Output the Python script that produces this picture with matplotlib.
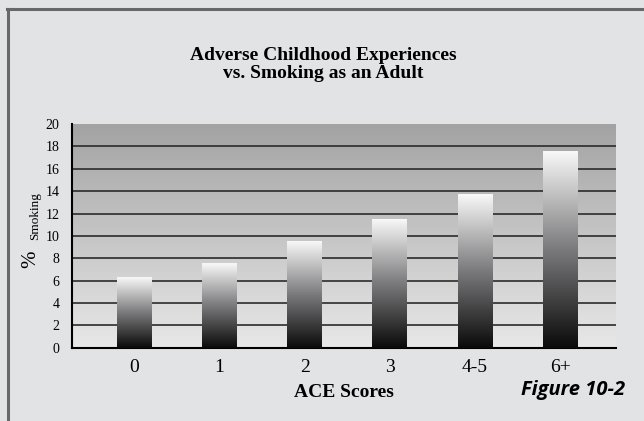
import numpy as np
import matplotlib
matplotlib.use('Agg')
import matplotlib.pyplot as plt
from matplotlib.colors import LinearSegmentedColormap
from matplotlib.lines import Line2D

# datos
categorias = ['0', '1', '2', '3', '4-5', '6+']
pct_fumando = [6.3, 7.6, 9.5, 11.5, 13.7, 17.6]
yticks = [0, 2, 4, 6, 8, 10, 12, 14, 16, 18, 20]

plt.rcParams['font.family'] = ['Liberation Serif', 'DejaVu Serif']

fondo = '#e2e3e5'
fig = plt.figure(figsize=(6.44, 4.21), dpi=100, facecolor=fondo)
ax = fig.add_axes([0.1118, 0.174, 0.8444, 0.5313])

x = np.arange(len(categorias))
xmin, xmax = -0.735, 5.655
ancho = 0.41

# fondo del area con degradado (claro abajo, oscuro arriba)
cmap_fondo = LinearSegmentedColormap.from_list('fondo', ['#e8e8e9', '#a3a3a4'])
grad = np.linspace(0, 1, 256).reshape(-1, 1)
ax.imshow(grad, cmap=cmap_fondo, extent=[xmin, xmax, 0, 20],
          aspect='auto', origin='lower', zorder=0)

# lineas horizontales
for t in yticks[1:-1]:
    ax.axhline(t, color='#2b2b2b', lw=1.2, zorder=1)

# barras con degradado negro -> blanco
cmap_barra = LinearSegmentedColormap.from_list('barra', ['#0a0a0a', '#7a7a7c', '#f8f8f8'])
barras = ax.bar(x, pct_fumando, width=ancho, color='none', zorder=3)
for b in barras:
    x0 = b.get_x()
    x1 = x0 + b.get_width()
    h = b.get_height()
    ax.imshow(grad, cmap=cmap_barra, extent=[x0, x1, 0, h],
              aspect='auto', origin='lower', zorder=3)

ax.set_xlim(xmin, xmax)
ax.set_ylim(0, 20)

ax.set_xticks(x)
ax.set_xticklabels(categorias, fontsize=14)
ax.set_yticks(yticks)
ax.set_yticklabels([str(t) for t in yticks], fontsize=10)
ax.tick_params(axis='both', length=0)
ax.tick_params(axis='y', pad=9)
ax.tick_params(axis='x', pad=8)

for s in ['top', 'right']:
    ax.spines[s].set_visible(False)
for s in ['left', 'bottom']:
    ax.spines[s].set_color('black')
    ax.spines[s].set_linewidth(1.5)

# textos
fig.text(0.5015, 0.847, 'Adverse Childhood Experiences\nvs. Smoking as an Adult',
         ha='center', va='center', fontsize=14, fontweight='bold',
         linespacing=1.12)
fig.text(0.534, 0.067, 'ACE Scores', ha='center', va='center',
         fontsize=14, fontweight='bold')
fig.text(0.047, 0.385, '%', rotation=90, ha='center', va='center', fontsize=15)
fig.text(0.054, 0.487, 'Smoking', rotation=90, ha='center', va='center', fontsize=9.5)
fig.text(0.890, 0.074, 'Figure 10-2', ha='center', va='center',
         fontsize=14.5, fontweight='bold', style='italic',
         family=['Open Sans', 'DejaVu Sans'])

# marco
fig.add_artist(Line2D([0.0115, 1.0], [0.979, 0.979], color='#686868', lw=2.2))
fig.add_artist(Line2D([0.0125, 0.0125], [0.0, 0.979], color='#686868', lw=2.2))

fig.savefig('out.png', dpi=100, facecolor=fondo)
